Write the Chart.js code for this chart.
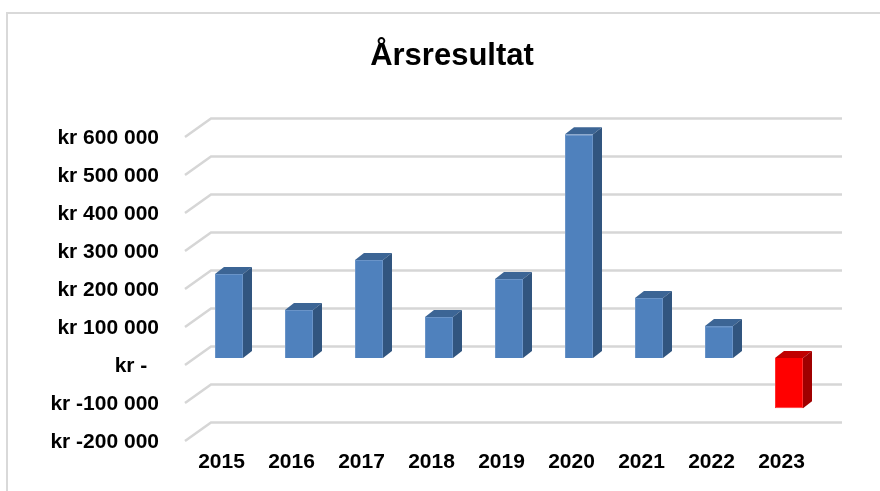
<!DOCTYPE html>
<html>
<head>
<meta charset="utf-8">
<script src="https://cdn.jsdelivr.net/npm/chart.js@4"></script>
<style>
html,body{margin:0;padding:0;background:#fff;}
#wrap{width:880px;height:491px;position:relative;}
</style>
</head>
<body>
<div id="wrap"><canvas id="c" width="880" height="491"></canvas></div>
<script>
const years = ['2015','2016','2017','2018','2019','2020','2021','2022','2023'];
const results = [221000, 126000, 258000, 108000, 208000, 589000, 158000, 84000, -132000];
const yMin = -200000, yMax = 600000, yStep = 100000;
const chartTitle = 'Årsresultat';

const FONT = '"Liberation Sans", Arial, sans-serif';
const DX = 9, DY = -7; // bar depth

function fmtKr(v){
  if (v === 0) return 'kr -  ';
  const s = Math.abs(v).toString().replace(/\B(?=(\d{3})+(?!\d))/g, ' ');
  return 'kr ' + (v < 0 ? '-' : '') + s;
}

const frame = {
  id: 'frame',
  afterLayout(chart){
    // let the y tick labels extend to the left of the axis box (no clipping)
    chart.scales.y.left = 0;
  },
  beforeDraw(chart){
    const ctx = chart.ctx;
    ctx.save();
    ctx.fillStyle = '#fff';
    ctx.fillRect(0,0,chart.width,chart.height);
    ctx.strokeStyle = '#d9d9d9';
    ctx.lineWidth = 2;
    ctx.beginPath();
    ctx.moveTo(7, chart.height);
    ctx.lineTo(7, 13);
    ctx.lineTo(chart.width, 13);
    ctx.stroke();
    ctx.restore();
  }
};

const grid3d = {
  id: 'grid3d',
  beforeDatasetsDraw(chart){
    const ctx = chart.ctx, ys = chart.scales.y, ca = chart.chartArea;
    ctx.save();
    ctx.strokeStyle = '#d6d6d6';
    ctx.lineWidth = 2.5;
    ys.ticks.forEach(t => {
      const y = ys.getPixelForValue(t.value);
      ctx.beginPath();
      ctx.moveTo(ca.left - 9, y + 7);
      ctx.lineTo(ca.left + 17, y - 11.5);
      ctx.lineTo(ca.right + 18, y - 11.5);
      ctx.stroke();
    });
    ctx.restore();
  }
};

const bars3d = {
  id: 'bars3d',
  afterDatasetsDraw(chart){
    const ctx = chart.ctx;
    const meta = chart.getDatasetMeta(0);
    ctx.save();
    meta.data.forEach((bar, i) => {
      const p = bar.getProps(['x','y','base','width'], true);
      const x0 = p.x - p.width/2, x1 = p.x + p.width/2;
      const top = Math.min(p.y, p.base), bot = Math.max(p.y, p.base);
      const neg = results[i] < 0;
      // top face
      ctx.fillStyle = neg ? '#c00000' : '#3c6595';
      ctx.beginPath();
      ctx.moveTo(x0, top); ctx.lineTo(x1, top);
      ctx.lineTo(x1 + DX, top + DY); ctx.lineTo(x0 + DX, top + DY);
      ctx.closePath(); ctx.fill();
      // side face
      ctx.fillStyle = neg ? '#a00000' : '#31557f';
      ctx.beginPath();
      ctx.moveTo(x1, top); ctx.lineTo(x1 + DX, top + DY);
      ctx.lineTo(x1 + DX, bot + DY); ctx.lineTo(x1, bot);
      ctx.closePath(); ctx.fill();
    });
    ctx.restore();
  }
};

new Chart(document.getElementById('c'), {
  type: 'bar',
  data: {
    labels: years,
    datasets: [{
      data: results,
      backgroundColor: results.map(v => v < 0 ? '#ff0000' : '#4f81bd'),
      borderColor: results.map(v => v < 0 ? '#ff3030' : '#6a94c8'),
      borderWidth: 1,
      barPercentage: 0.4,
      categoryPercentage: 1.0
    }]
  },
  options: {
    responsive: false,
    animation: false,
    layout: { padding: { left: 80, right: 56, top: 0, bottom: 0 } },
    plugins: {
      legend: { display: false },
      tooltip: { enabled: false },
      title: {
        display: true,
        text: chartTitle,
        color: '#000',
        font: { family: FONT, size: 31, weight: 'bold', lineHeight: 1.2 },
        padding: { top: 37.4, bottom: 55.4 }
      }
    },
    scales: {
      x: {
        grid: { display: false, drawTicks: false },
        border: { display: false },
        ticks: {
          color: '#000',
          font: { family: FONT, size: 21, weight: 'bold' },
          padding: 16,
          labelOffset: -7.5,
          maxRotation: 0
        },
        afterFit(s){ s.height = 57; }
      },
      y: {
        min: yMin, max: yMax,
        grid: { display: false, drawTicks: false },
        border: { display: false },
        ticks: {
          stepSize: yStep,
          color: '#000',
          font: { family: FONT, size: 21, weight: 'bold' },
          padding: 35,
          labelOffset: 8,
          callback: v => fmtKr(v)
        },
        afterFit(s){ s.width = 114; }
      }
    }
  },
  plugins: [frame, grid3d, bars3d]
});
</script>
</body>
</html>
